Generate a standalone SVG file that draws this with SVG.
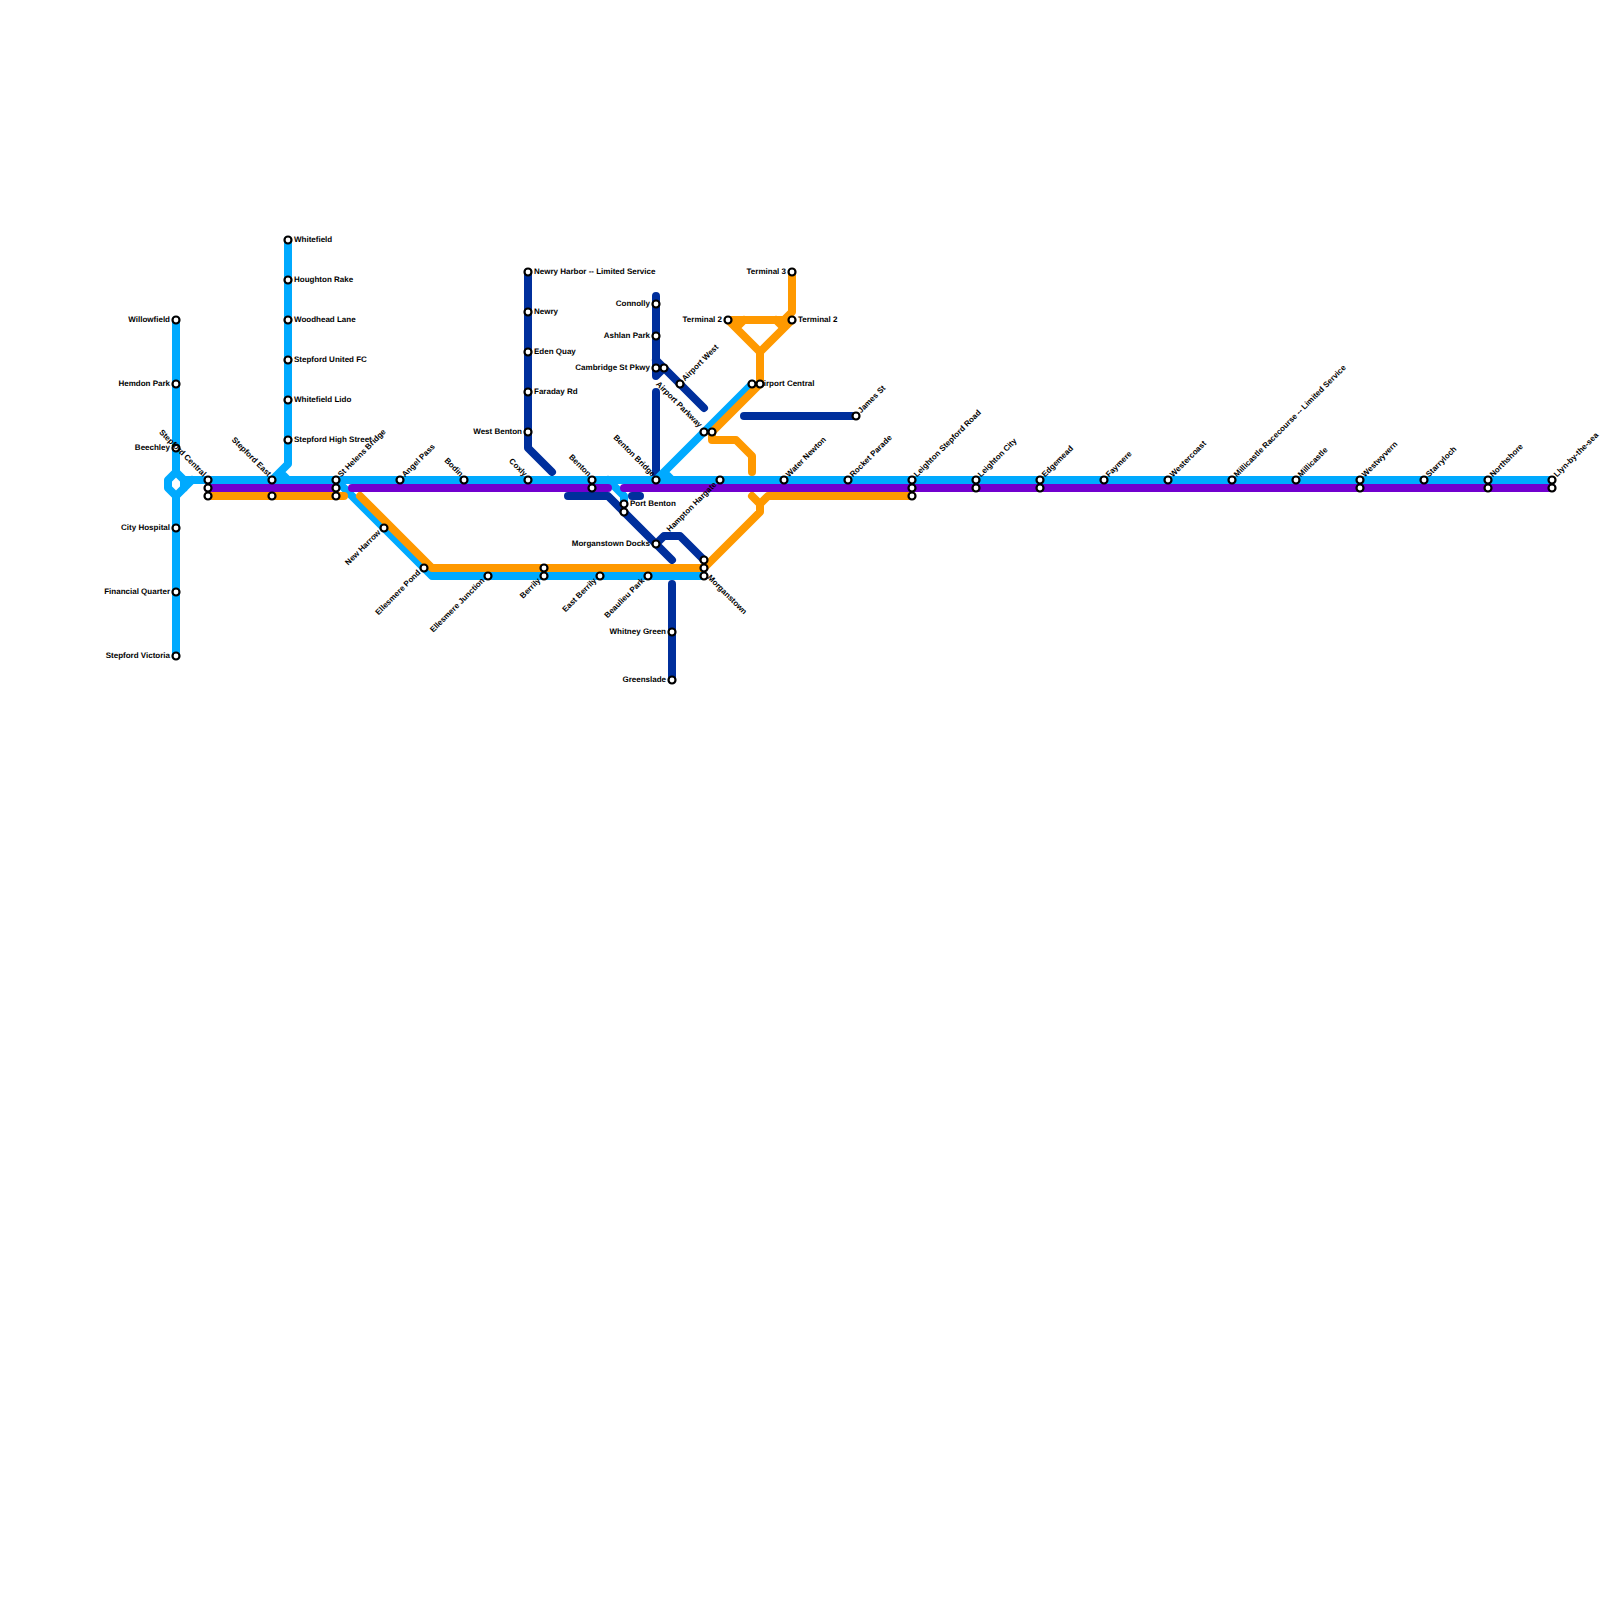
<svg xmlns="http://www.w3.org/2000/svg" width="1600" height="1600" viewBox="0 0 1600 1600">
<style>
.l{fill:none;stroke-width:8;stroke-linecap:round;stroke-linejoin:round}
.d{stroke:#002f9c}.b{stroke:#00aaff}.o{stroke:#ff9900}.p{stroke:#7100cf}
.s{fill:#fff;stroke:#000;stroke-width:2.2}
text{font-family:"Liberation Sans",Arial,sans-serif;font-size:8px;font-weight:700;fill:#000;text-rendering:geometricPrecision}
.e{text-anchor:end}
</style>
<rect width="1600" height="1600" fill="#fff"/>
<g id="connectors">
<path class="l d" d="M528 272V448L552 472M656 296V376L664 368M656 360L704 408M656 392V480M744 416H856M568 496H608L672 560M632 496H640M656 544L664 536H680L704 560M672 584V680"/>
<path class="l b" d="M176 320V472L168 480V488L176 496L192 480M184 480H1552M176 472L184 480V488M176 496V656M288 240V464L272 480M280 472L288 480M336 480L432 576H704M608 480L624 496V504M656 480L752 384M664 472L672 480"/>
<path class="l o" d="M208 496H344M360 496L432 568H704L760 512V504L752 496M760 504L768 496H912M792 272V312L784 320H728L760 352L792 320M744 320L736 328M776 320L784 328M760 352V384L712 432V440H736L752 456V472"/>
<path class="l p" d="M208 488H336M352 488H608M624 488H1552"/>
</g>
<g id="stations">
<g id="n1"><text class="e" x="170" y="321.500">Willowfield</text><circle class="s" cx="176" cy="320" r="3.5"/></g>
<g id="n2"><text class="e" x="170" y="385.500">Hemdon Park</text><circle class="s" cx="176" cy="384" r="3.5"/></g>
<g id="n3"><text class="e" x="170" y="449.500">Beechley</text><circle class="s" cx="176" cy="448" r="3.5"/></g>
<g id="n4"><text class="e" x="170" y="529.500">City Hospital</text><circle class="s" cx="176" cy="528" r="3.5"/></g>
<g id="n5"><text class="e" x="170" y="593.500">Financial Quarter</text><circle class="s" cx="176" cy="592" r="3.5"/></g>
<g id="n6"><text class="e" x="170" y="657.500">Stepford Victoria</text><circle class="s" cx="176" cy="656" r="3.5"/></g>
<g id="n7"><text class="e" transform="translate(203,477) rotate(45)">Stepford Central</text><circle class="s" cx="208" cy="480" r="3.5"/><circle class="s" cx="208" cy="488" r="3.5"/><circle class="s" cx="208" cy="496" r="3.5"/></g>
<g id="n8"><text class="e" transform="translate(268,477) rotate(45)">Stepford East</text><circle class="s" cx="272" cy="480" r="3.5"/><circle class="s" cx="272" cy="496" r="3.5"/></g>
<g id="n9"><text x="294" y="241.500">Whitefield</text><circle class="s" cx="288" cy="240" r="3.5"/></g>
<g id="n10"><text x="294" y="281.500">Houghton Rake</text><circle class="s" cx="288" cy="280" r="3.5"/></g>
<g id="n11"><text x="294" y="321.500">Woodhead Lane</text><circle class="s" cx="288" cy="320" r="3.5"/></g>
<g id="n12"><text x="294" y="361.500">Stepford United FC</text><circle class="s" cx="288" cy="360" r="3.5"/></g>
<g id="n13"><text x="294" y="401.500">Whitefield Lido</text><circle class="s" cx="288" cy="400" r="3.5"/></g>
<g id="n14"><text x="294" y="441.500">Stepford High Street</text><circle class="s" cx="288" cy="440" r="3.5"/></g>
<g id="n15"><text transform="translate(341,477.500) rotate(-45)">St Helens Bridge</text><circle class="s" cx="336" cy="480" r="3.5"/><circle class="s" cx="336" cy="488" r="3.5"/><circle class="s" cx="336" cy="496" r="3.5"/></g>
<g id="n16"><text transform="translate(405,477.500) rotate(-45)">Angel Pass</text><circle class="s" cx="400" cy="480" r="3.5"/></g>
<g id="n17"><text class="e" transform="translate(460,477) rotate(45)">Bodin</text><circle class="s" cx="464" cy="480" r="3.5"/></g>
<g id="n18"><text class="e" transform="translate(524,477) rotate(45)">Coxly</text><circle class="s" cx="528" cy="480" r="3.5"/></g>
<g id="n19"><text class="e" transform="translate(588,477) rotate(45)">Benton</text><circle class="s" cx="592" cy="480" r="3.5"/><circle class="s" cx="592" cy="488" r="3.5"/></g>
<g id="n20"><text class="e" transform="translate(652,477) rotate(45)">Benton Bridge</text><circle class="s" cx="656" cy="480" r="3.5"/></g>
<g id="n21"><text class="e" transform="translate(717,485) rotate(-45)">Hampton Hargate</text><circle class="s" cx="720" cy="480" r="3.5"/></g>
<g id="n22"><text transform="translate(789,477.500) rotate(-45)">Water Newton</text><circle class="s" cx="784" cy="480" r="3.5"/></g>
<g id="n23"><text transform="translate(853,477.500) rotate(-45)">Rocket Parade</text><circle class="s" cx="848" cy="480" r="3.5"/></g>
<g id="n24"><text transform="translate(917,477.500) rotate(-45)">Leighton Stepford Road</text><circle class="s" cx="912" cy="480" r="3.5"/><circle class="s" cx="912" cy="488" r="3.5"/><circle class="s" cx="912" cy="496" r="3.5"/></g>
<g id="n25"><text transform="translate(981,477.500) rotate(-45)">Leighton City</text><circle class="s" cx="976" cy="480" r="3.5"/><circle class="s" cx="976" cy="488" r="3.5"/></g>
<g id="n26"><text transform="translate(1045,477.500) rotate(-45)">Edgemead</text><circle class="s" cx="1040" cy="480" r="3.5"/><circle class="s" cx="1040" cy="488" r="3.5"/></g>
<g id="n27"><text transform="translate(1109,477.500) rotate(-45)">Faymere</text><circle class="s" cx="1104" cy="480" r="3.5"/></g>
<g id="n28"><text transform="translate(1173,477.500) rotate(-45)">Westercoast</text><circle class="s" cx="1168" cy="480" r="3.5"/></g>
<g id="n29"><text transform="translate(1237,477.500) rotate(-45)">Millicastle Racecourse -- Limited Service</text><circle class="s" cx="1232" cy="480" r="3.5"/></g>
<g id="n30"><text transform="translate(1301,477.500) rotate(-45)">Millicastle</text><circle class="s" cx="1296" cy="480" r="3.5"/></g>
<g id="n31"><text transform="translate(1365,477.500) rotate(-45)">Westwyvern</text><circle class="s" cx="1360" cy="480" r="3.5"/><circle class="s" cx="1360" cy="488" r="3.5"/></g>
<g id="n32"><text transform="translate(1429,477.500) rotate(-45)">Starryloch</text><circle class="s" cx="1424" cy="480" r="3.5"/></g>
<g id="n33"><text transform="translate(1493,477.500) rotate(-45)">Northshore</text><circle class="s" cx="1488" cy="480" r="3.5"/><circle class="s" cx="1488" cy="488" r="3.5"/></g>
<g id="n34"><text transform="translate(1557,477.500) rotate(-45)">Llyn-by-the-sea</text><circle class="s" cx="1552" cy="480" r="3.5"/><circle class="s" cx="1552" cy="488" r="3.5"/></g>
<g id="n35"><text class="e" transform="translate(381,533) rotate(-45)">New Harrow</text><circle class="s" cx="384" cy="528" r="3.5"/></g>
<g id="n36"><text class="e" transform="translate(421,573) rotate(-45)">Ellesmere Pond</text><circle class="s" cx="424" cy="568" r="3.5"/></g>
<g id="n37"><text class="e" transform="translate(485,581) rotate(-45)">Ellesmere Junction</text><circle class="s" cx="488" cy="576" r="3.5"/></g>
<g id="n38"><text class="e" transform="translate(541,581) rotate(-45)">Berrily</text><circle class="s" cx="544" cy="568" r="3.5"/><circle class="s" cx="544" cy="576" r="3.5"/></g>
<g id="n39"><text class="e" transform="translate(597,581) rotate(-45)">East Berrily</text><circle class="s" cx="600" cy="576" r="3.5"/></g>
<g id="n40"><text class="e" transform="translate(645,581) rotate(-45)">Beaulieu Park</text><circle class="s" cx="648" cy="576" r="3.5"/></g>
<g id="n41"><text transform="translate(707,578) rotate(45)">Morganstown</text><circle class="s" cx="704" cy="560" r="3.5"/><circle class="s" cx="704" cy="568" r="3.5"/><circle class="s" cx="704" cy="576" r="3.5"/></g>
<g id="n42"><text class="e" x="650" y="545.500">Morganstown Docks</text><circle class="s" cx="656" cy="544" r="3.5"/></g>
<g id="n43"><text class="e" x="666" y="633.500">Whitney Green</text><circle class="s" cx="672" cy="632" r="3.5"/></g>
<g id="n44"><text class="e" x="666" y="681.500">Greenslade</text><circle class="s" cx="672" cy="680" r="3.5"/></g>
<g id="n45"><text x="630" y="505.500">Port Benton</text><circle class="s" cx="624" cy="504" r="3.5"/><circle class="s" cx="624" cy="512" r="3.5"/></g>
<g id="n46"><text x="534" y="273.500">Newry Harbor -- Limited Service</text><circle class="s" cx="528" cy="272" r="3.5"/></g>
<g id="n47"><text x="534" y="313.500">Newry</text><circle class="s" cx="528" cy="312" r="3.5"/></g>
<g id="n48"><text x="534" y="353.500">Eden Quay</text><circle class="s" cx="528" cy="352" r="3.5"/></g>
<g id="n49"><text x="534" y="393.500">Faraday Rd</text><circle class="s" cx="528" cy="392" r="3.5"/></g>
<g id="n50"><text class="e" x="522" y="433.500">West Benton</text><circle class="s" cx="528" cy="432" r="3.5"/></g>
<g id="n51"><text class="e" x="650" y="305.500">Connolly</text><circle class="s" cx="656" cy="304" r="3.5"/></g>
<g id="n52"><text class="e" x="650" y="337.500">Ashlan Park</text><circle class="s" cx="656" cy="336" r="3.5"/></g>
<g id="n53"><text class="e" x="650" y="369.500">Cambridge St Pkwy</text><circle class="s" cx="656" cy="368" r="3.5"/><circle class="s" cx="664" cy="368" r="3.5"/></g>
<g id="n54"><text transform="translate(685,381.500) rotate(-45)">Airport West</text><circle class="s" cx="680" cy="384" r="3.5"/></g>
<g id="n55"><text class="e" transform="translate(699,428) rotate(45)">Airport Parkway</text><circle class="s" cx="704" cy="432" r="3.5"/><circle class="s" cx="712" cy="432" r="3.5"/></g>
<g id="n56"><text x="758" y="385.500">Airport Central</text><circle class="s" cx="752" cy="384" r="3.5"/><circle class="s" cx="760" cy="384" r="3.5"/></g>
<g id="n57"><text class="e" x="722" y="321.500">Terminal 2</text><circle class="s" cx="728" cy="320" r="3.5"/></g>
<g id="n58"><text x="798" y="321.500">Terminal 2</text><circle class="s" cx="792" cy="320" r="3.5"/></g>
<g id="n59"><text class="e" x="786" y="273.500">Terminal 3</text><circle class="s" cx="792" cy="272" r="3.5"/></g>
<g id="n60"><text transform="translate(861,413.500) rotate(-45)">James St</text><circle class="s" cx="856" cy="416" r="3.5"/></g>
</g>
</svg>
